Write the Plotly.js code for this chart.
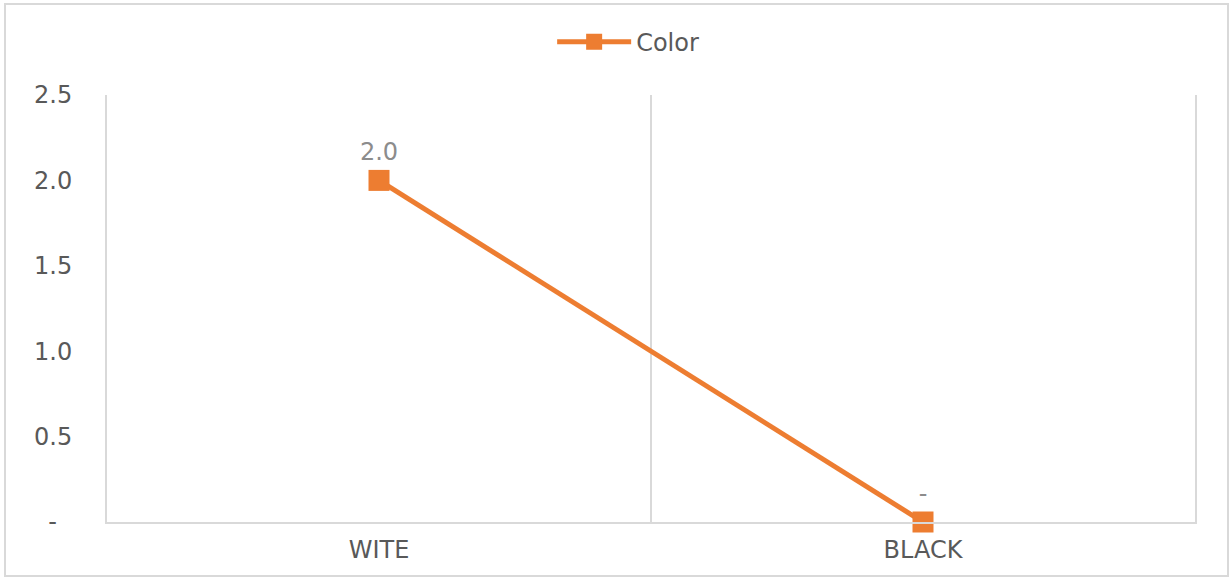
<!DOCTYPE html>
<html>
<head>
<meta charset="utf-8">
<script src="https://cdn.plot.ly/plotly-3.0.1.min.js"></script>
<style>
  html, body { margin: 0; padding: 0; background: #fff; }
  #wrap { position: relative; width: 1231px; height: 579px; }
  #chart { position: absolute; left: 0; top: 0; width: 1231px; height: 579px; }
  #frame { position: absolute; left: 4px; top: 3px; width: 1221px; height: 570px;
           border: 2px solid #d9d9d9; pointer-events: none; }
</style>
</head>
<body>
<div id="wrap">
  <div id="chart"></div>
  <div id="frame"></div>
</div>
<script>
// Data
const categories = ["WITE", "BLACK"];
const colorValues = [2.0, 0.0];
const dataLabels = ["2.0", "-"];
const yTickVals = [0, 0.5, 1.0, 1.5, 2.0, 2.5];
const yTickText = ["-\u00a0\u00a0", "0.5", "1.0", "1.5", "2.0", "2.5"];
const seriesName = "Color";

const FONT = "DejaVu Sans, Noto Sans, sans-serif";

const trace = {
  x: categories,
  y: colorValues,
  type: "scatter",
  mode: "lines+markers+text",
  name: seriesName,
  text: dataLabels,
  textposition: "top center",
  textfont: { family: FONT, size: 24, color: "#8c8c8c" },
  line: { color: "#ED7D31", width: 5 },
  marker: { symbol: "square", size: 21, color: "#ED7D31" },
  cliponaxis: false,
  hoverinfo: "x+y"
};

const layout = {
  width: 1231,
  height: 579,
  margin: { l: 107, r: 36, t: 95, b: 57 },
  paper_bgcolor: "#ffffff",
  plot_bgcolor: "#ffffff",
  font: { family: FONT, size: 24, color: "#595959" },
  showlegend: true,
  legend: {
    orientation: "h",
    x: 0.479, xanchor: "center", xref: "paper",
    y: 0.927, yanchor: "middle", yref: "container",
    font: { family: FONT, size: 24, color: "#595959" },
    itemwidth: 74
  },
  xaxis: {
    type: "category",
    range: [-0.5, 1.5],
    tickson: "boundaries",
    showgrid: true,
    gridcolor: "#d9d9d9",
    gridwidth: 2,
    showline: true,
    linecolor: "#d9d9d9",
    linewidth: 2,
    ticks: "",
    zeroline: false,
    ticklabelstandoff: 5,
    tickfont: { family: FONT, size: 24, color: "#595959" }
  },
  yaxis: {
    range: [0, 2.5],
    tickmode: "array",
    tickvals: yTickVals,
    ticktext: yTickText,
    showgrid: false,
    zeroline: false,
    showline: true,
    mirror: true,
    linecolor: "#d9d9d9",
    linewidth: 2,
    ticks: "",
    ticklabelstandoff: 28,
    tickfont: { family: FONT, size: 24, color: "#595959" }
  }
};

Plotly.newPlot("chart", [trace], layout, { displayModeBar: false });
</script>
</body>
</html>
